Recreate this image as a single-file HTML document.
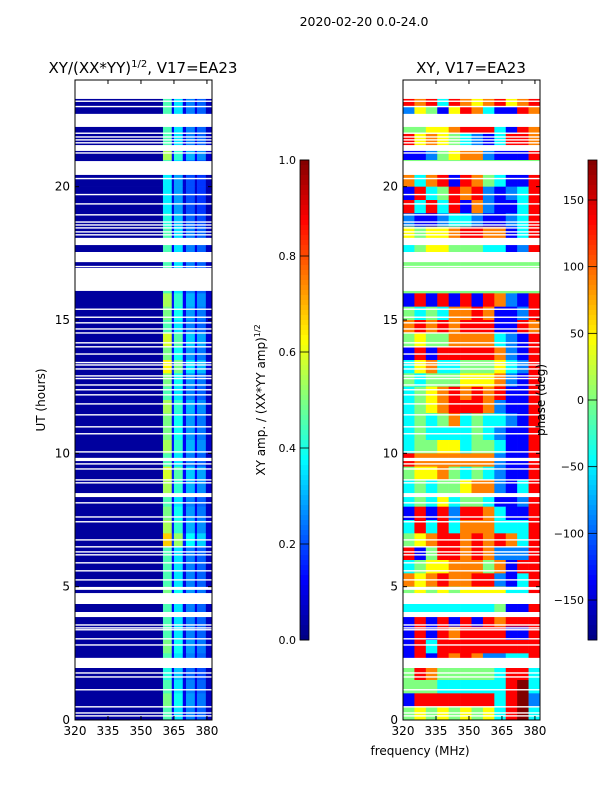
<!DOCTYPE html>
<html><head><meta charset="utf-8"><style>
html,body{margin:0;padding:0;background:#fff;}
svg{display:block;font-family:"DejaVu Sans","Liberation Sans",sans-serif;}
</style></head><body>
<svg id="fig" width="600" height="800" viewBox="0 0 600 800" xmlns="http://www.w3.org/2000/svg">
<text x="364" y="26" font-size="12.5" text-anchor="middle">2020-02-20 0.0-24.0</text>
<text x="143" y="73" font-size="15" text-anchor="middle">XY/(XX*YY)<tspan font-size="10" dy="-6">1/2</tspan><tspan dy="6">, V17=EA23</tspan></text>
<text x="471" y="73" font-size="15" text-anchor="middle">XY, V17=EA23</text>
<g id="left"></g>
<g id="right"></g>
<g id="cbs"></g>
<text x="420" y="755" font-size="12" text-anchor="middle">frequency (MHz)</text>
<text transform="translate(45,400) rotate(-90)" font-size="12" text-anchor="middle">UT (hours)</text>
<text transform="translate(265,400) rotate(-90)" font-size="12" text-anchor="middle">XY amp. / (XX*YY amp)<tspan font-size="8" dy="-5">1/2</tspan></text>
</svg>
<script>
// ---- data ----
const tTicks=[0,5,10,15,20];
const fTicks=[320,335,350,365,380];
const ampTicks=[0.0,0.2,0.4,0.6,0.8,1.0];
const phaseTicks=[-150,-100,-50,0,50,100,150];
// wide white gaps (hours)
const gapsH=[[23.29,24],[22.24,22.69],[21.34,21.56],[20.44,20.96],[17.81,18.08],[17.17,17.55],[16.09,16.95],[9.71,9.83],[8.36,8.51],[4.88,4.99],[4.35,4.76],[3.86,4.05],[1.95,2.33]];
// thin white gap lines (hours)
const thinGapsH=[23.2,23.0,22.7,22.0,21.86,21.75,21.64,21.26,20.3,19.7,19.35,18.94,18.67,18.56,18.45,18.3,18.19,17.0,15.4,15.1,14.89,14.66,14.51,14.14,13.99,13.72,13.4,13.31,13.16,12.8,12.9,12.56,12.38,12.19,11.85,11.44,10.99,10.73,10.05,9.6,9.41,9.0,8.89,8.14,7.61,7.43,6.75,6.49,6.3,6.19,5.89,5.59,5.25,3.56,3.45,3.38,3.04,2.81,1.76,1.61,1.13,0.49,0.26,0.15];
// amplitude panel: frequency column edges and base amplitude per column
const ampColEdges=[320,360,364,365,369,370.5,374.5,375.5,379.5,382];
const ampColBase=[0.03,0.45,0.12,0.35,0.1,0.25,0.1,0.22,0.06];
// amplitude per-row scale, 0.5 h rows from t=24 downward
const ampRowScale=[1,1,1,1,1,1.2,1,0.8,0.8,0.8,0.9,1,1,1,1,1,1.2,1.1,1,1.3,1.1,1.4,1.1,1,1.2,1.1,1.1,1.2,1,1.3,1.2,1,1.1,1.2,1.5,1,1,1,1.1,1,1,1,1.1,1,0.9,1,1.1,1];
// phase panel: 12 freq columns, 0.5 h rows from t=24 downward; digit d -> phase -180+45*d
const phaseRows=["444444444444","767376567567","254157631176","445567773176","756543213776","112456621117","444444444444","636717643117","173476721237","737371621137","211233211237","545567766137","345544433127","444444444444","444444444444","444444444444","171717176217","434366761127","676767771176","454466663217","171777776217","356334445327","434445556217","345676767117","345677762117","343463433217","343333432117","344553443117","766666662117","455643432117","343445662137","343534431127","171727763117","373736663337","456776767637","714776762227","345566646177","656766772137","454545555337","333333334117","171717176777","171767777117","173777777777","171767622337","476444443773","444333333783","177777773782","454545453783"];
// ---- helpers ----
const NS="http://www.w3.org/2000/svg";
function jet(v){v=Math.max(0,Math.min(1,v));
 const r=Math.max(0,Math.min(1,1.5-Math.abs(4*v-3))),g=Math.max(0,Math.min(1,1.5-Math.abs(4*v-2))),b=Math.max(0,Math.min(1,1.5-Math.abs(4*v-1)));
 return `rgb(${Math.round(r*255)},${Math.round(g*255)},${Math.round(b*255)})`;}
function mk(tag,attrs,parent){const e=document.createElementNS(NS,tag);for(const k in attrs)e.setAttribute(k,attrs[k]);parent.appendChild(e);return e;}
const PT=80,PB=720;
const yT=t=>PB-(t/24)*(PB-PT);
function xF(x0){return f=>x0+(f-320)*(137/62.3);}
function axes(g,x0,name){
 const xf=xF(x0);
 gapsH.forEach(gp=>{const r=mk('rect',{x:x0,y:yT(gp[1]),width:137,height:yT(gp[0])-yT(gp[1]),fill:'#fff'},g);
  
  });
 thinGapsH.forEach(h=>{const r=mk('rect',{x:x0,y:yT(h+0.03),width:137,height:1.4,fill:'#fff'},g);
  
  });
 const fr=mk('rect',{x:x0,y:PT,width:137,height:PB-PT,fill:'none',stroke:'#000','stroke-width':1},g);
 
 
 fTicks.forEach(f=>{const x=xf(f);
  mk('line',{x1:x,x2:x,y1:PB,y2:PB-4,stroke:'#000'},g);mk('line',{x1:x,x2:x,y1:PT,y2:PT+4,stroke:'#000'},g);
  const t=mk('text',{x:x,y:PB+15,'font-size':12,'text-anchor':'middle'},g);t.textContent=f;
  
  });
 tTicks.forEach(v=>{const y=yT(v);
  mk('line',{x1:x0,x2:x0+4,y1:y,y2:y,stroke:'#000'},g);mk('line',{x1:x0+137,x2:x0+133,y1:y,y2:y,stroke:'#000'},g);
  const t=mk('text',{x:x0-5,y:y+4,'font-size':12,'text-anchor':'end'},g);t.textContent=v;
  
  });
}
// left amplitude panel
(function(){const g=document.getElementById('left');const x0=75,xf=xF(x0);
 ampRowScale.forEach((s,i)=>{const t1=24-i*0.5,t0=t1-0.5;
  for(let c=0;c<ampColBase.length;c++){
   const v=c===0?ampColBase[c]:ampColBase[c]*s;
   const r=mk('rect',{x:xf(ampColEdges[c]),y:yT(t1),width:xf(ampColEdges[c+1])-xf(ampColEdges[c])+0.3,height:yT(t0)-yT(t1)+0.3,fill:jet(v)},g);
   
   }});
 axes(g,x0,'amplitude-panel');})();
// right phase panel
(function(){const g=document.getElementById('right');const x0=403,xf=xF(x0);
 const ncol=12,df=62.3/ncol;
 phaseRows.forEach((row,i)=>{const t1=24-i*0.5,t0=t1-0.5;
  for(let c=0;c<ncol;c++){const ph=-180+45*(+row[c]);
   const r=mk('rect',{x:xf(320+c*df),y:yT(t1),width:xf(320+(c+1)*df)-xf(320+c*df)+0.3,height:yT(t0)-yT(t1)+0.3,fill:jet((ph+180)/360)},g);
   
   }});
 axes(g,x0,'phase-panel');})();
// colorbars
(function(){const g=document.getElementById('cbs');
 function cb(x,lo,hi,ticks,fmt,name){
  for(let i=0;i<96;i++){const r=mk('rect',{x:x,y:160+i*5,width:9,height:5.3,fill:jet(1-(i+0.5)/96)},g);
   
   }
  const fr=mk('rect',{x:x,y:160,width:9,height:480,fill:'none',stroke:'#000','stroke-width':0.8},g);
  
  
  ticks.forEach(v=>{const y=640-(v-lo)/(hi-lo)*480;
   mk('line',{x1:x,x2:x+9,y1:y,y2:y,stroke:'#000','stroke-width':0.8},g);
   const t=mk('text',{x:x-4,y:y+4,'font-size':11,'text-anchor':'end'},g);t.textContent=fmt(v);
   
   });}
 cb(300,0,1,ampTicks,v=>v.toFixed(1),'amplitude-colorbar');
 cb(588,-180,180,phaseTicks,v=>String(v).replace('-','\u2212'),'phase-colorbar');
 const lab=mk('text',{transform:'translate(545,400) rotate(-90)','font-size':12,'text-anchor':'middle'},g);
 lab.textContent='phase (deg)';
 
 })();
</script>
</body></html>
